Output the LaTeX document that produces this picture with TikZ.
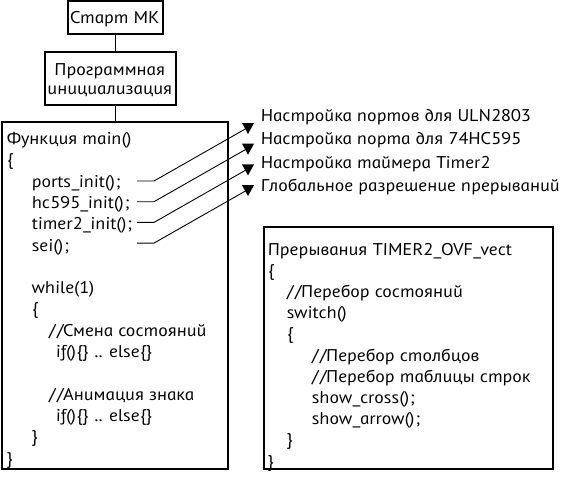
\documentclass[tikz,border=0pt]{standalone}
\usepackage{fontspec}
\newfontfamily\gost{PT Sans Italic}[FakeSlant=-0.22,FakeStretch=1.13]
\begin{document}
\begin{tikzpicture}[x=1pt,y=-1pt,line width=1.1pt,
  every node/.style={font=\gost\fontsize{17}{19}\selectfont},
  code/.style={anchor=base west,inner sep=0pt},
  box/.style={draw,line width=1.1pt,inner sep=0pt,align=center},
  lead/.style={line width=0.9pt},
  tip/.style={fill=black,draw=none}]
\useasboundingbox (0,0) rectangle (561,480);
% boxes
\node[box,minimum width=95pt,minimum height=33pt] (start) at (115.5,17.5) {};
\node[anchor=base,inner sep=0pt] (startt) at (115.5,23.5) {Старт МК};
\node[box,minimum width=131pt,minimum height=53pt] (init) at (110.5,78.5) {};
\node[anchor=base,inner sep=0pt] (initt1) at (110.5,75) {Программная};
\node[anchor=base,inner sep=0pt] (initt2) at (110.5,94) {инициализация};
\node[box,minimum width=226pt,minimum height=347pt] (main) at (115,295.5) {};
\node[box,minimum width=289pt,minimum height=242pt] (isr) at (408.5,348) {};
\draw (start.south) -- (start.south |- init.north);
\draw (start.south |- init.south) -- (start.south |- main.north);
% main code
\node[code] (m0) at (7,144.5) {Функция main()};
\node[code] (m1) at (7,165.8) {\{};
\node[code] (m2) at (32,187.1) {ports\_init();};
\node[code] (m3) at (32,208.4) {hc595\_init();};
\node[code] (m4) at (32,229.7) {timer2\_init();};
\node[code] (m5) at (32,251) {sei();};
\node[code] (m7) at (32,293.6) {while(1)};
\node[code] (m8) at (32,314.9) {\{};
\node[code] (m9) at (49,336.2) {/\kern1.5pt/Смена состояний};
\node[code] (m10) at (56,357.5) {if()\{\} .. else\{\}};
\node[code] (m12) at (49,400.1) {/\kern1.5pt/Анимация знака};
\node[code] (m13) at (56,421.4) {if()\{\} .. else\{\}};
\node[code] (m14) at (32,442.7) {\}};
\node[code] (m15) at (7,464) {\}};
% interrupt code
\node[code] (r0) at (268,255) {Прерывания TIMER2\_OVF\_vect};
\node[code] (r1) at (268,276.2) {\{};
\node[code] (r2) at (287,297.4) {/\kern1.5pt/Перебор состояний};
\node[code] (r3) at (287,318.6) {switch()};
\node[code] (r4) at (287,339.8) {\{};
\node[code] (r5) at (312,361) {/\kern1.5pt/Перебор столбцов};
\node[code] (r6) at (312,382.2) {/\kern1.5pt/Перебор таблицы строк};
\node[code] (r7) at (312,403.4) {show\_cross();};
\node[code] (r8) at (312,424.6) {show\_arrow();};
\node[code] (r9) at (287,445.8) {\}};
\node[code] (r10) at (268,467) {\}};
% labels
\node[code] (lab0) at (261,121) {Настройка портов для ULN2803};
\node[code] (lab1) at (261,144.5) {Настройка порта для 74HC595};
\node[code] (lab2) at (261,168) {Настройка таймера Timer2};
\node[code] (lab3) at (261,191.5) {Глобальное разрешение прерываний};
% leaders
\foreach \i in {0,1,2,3}{
  \coordinate (hs\i) at (137,181+20.7*\i);
  \coordinate (hk\i) at (154,181+20.7*\i);
  \coordinate (ar\i) at (247,128+20.7*\i);
  \draw[lead] (hs\i) -- (hk\i) -- (ar\i);
  \fill[tip] (ar\i) ++(-5,-5) -- ++(12,0) -- ++(-6,11) -- cycle;
}
\end{tikzpicture}
\end{document}
